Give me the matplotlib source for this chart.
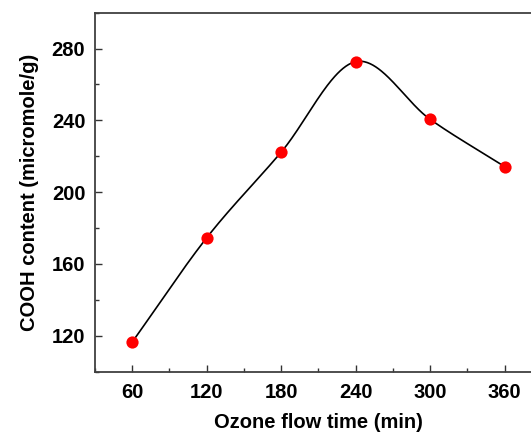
import numpy as np
import matplotlib
matplotlib.use("Agg")
import matplotlib.pyplot as plt
from matplotlib.ticker import AutoMinorLocator

time_min = [60, 120, 180, 240, 300, 360]
cooh = [116.5, 174.6, 222.3, 272.7, 240.6, 214.3]
x_ticks = [60, 120, 180, 240, 300, 360]
y_ticks = [120, 160, 200, 240, 280]


def catmull_rom(x, y, n=400):
    x = np.asarray(x, float)
    y = np.asarray(y, float)
    k = len(x)
    t = np.zeros(k)
    t[0] = (y[1] - y[0]) / (x[1] - x[0])
    t[-1] = (y[-1] - y[-2]) / (x[-1] - x[-2])
    for i in range(1, k - 1):
        t[i] = (y[i + 1] - y[i - 1]) / (x[i + 1] - x[i - 1])
    xs = np.linspace(x[0], x[-1], n)
    idx = np.clip(np.searchsorted(x, xs) - 1, 0, k - 2)
    h = x[idx + 1] - x[idx]
    s = (xs - x[idx]) / h
    h00 = 2 * s ** 3 - 3 * s ** 2 + 1
    h10 = s ** 3 - 2 * s ** 2 + s
    h01 = -2 * s ** 3 + 3 * s ** 2
    h11 = s ** 3 - s ** 2
    ys = h00 * y[idx] + h10 * h * t[idx] + h01 * y[idx + 1] + h11 * h * t[idx + 1]
    return xs, ys


plt.rcParams['font.family'] = ['Liberation Sans', 'DejaVu Sans']
plt.rcParams['font.weight'] = 'bold'

fig = plt.figure(figsize=(5.31, 4.33), dpi=100)
ax = fig.add_axes([0.1789, 0.1416, 0.8414, 0.8291])

xs, ys = catmull_rom(time_min, cooh)
ax.plot(xs, ys, color='black', lw=1.2, zorder=2)
ax.plot(time_min, cooh, 'o', color='#ff0000', markersize=8.8, markeredgewidth=0, zorder=3)

ax.set_xlim(30, 390)
ax.set_ylim(100, 300)
ax.set_xticks(x_ticks)
ax.set_yticks(y_ticks)
ax.xaxis.set_minor_locator(AutoMinorLocator(2))
ax.yaxis.set_minor_locator(AutoMinorLocator(2))
ax.tick_params(which='both', direction='in', width=1.0, color='#333333',
               labelsize=14.5)
ax.tick_params(which='major', length=5)
ax.tick_params(which='minor', length=3)
ax.tick_params(axis='x', pad=8)
ax.tick_params(axis='y', pad=7)
for lab in ax.get_xticklabels() + ax.get_yticklabels():
    lab.set_fontweight('bold')

for s in ['left', 'bottom', 'top']:
    ax.spines[s].set_linewidth(1.3)
    ax.spines[s].set_color('#404040')
ax.spines['right'].set_visible(False)

ax.set_xlabel('Ozone flow time (min)', fontsize=14.5, fontweight='bold', labelpad=8)
ax.set_ylabel('COOH content (micromole/g)', fontsize=14.5, fontweight='bold', labelpad=9)

fig.savefig('out.png', dpi=100)
